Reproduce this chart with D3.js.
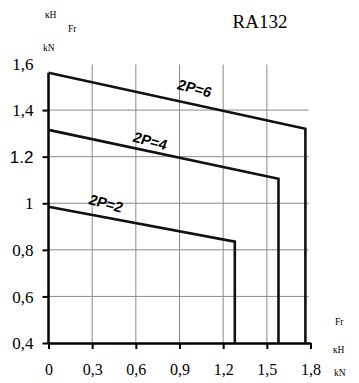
<!DOCTYPE html>
<html>
<head>
<meta charset="utf-8">
<script src="https://cdn.jsdelivr.net/npm/d3@7"></script>
<style>
  body { margin: 0; background: #fff; }
  svg { display: block; }
  .serif { font-family: "Liberation Serif", "Times New Roman", serif; }
</style>
</head>
<body>
<svg id="chart" width="359" height="383"></svg>
<script>
// data
const xTicks = [0, 0.3, 0.6, 0.9, 1.2, 1.5, 1.8];
const xTickLabels = ["0", "0,3", "0,6", "0,9", "1,2", "1,5", "1,8"];
const yTicks = [0.4, 0.6, 0.8, 1.0, 1.2, 1.4, 1.6];
const yTickLabels = ["0,4", "0,6", "0,8", "1", "1.2", "1,4", "1,6"];

const curveNames = ["2P=2", "2P=4", "2P=6"];
const curveX = [
  [0, 1.28, 1.28],
  [0, 1.58, 1.58],
  [0, 1.765, 1.765]
];
const curveY = [
  [0.985, 0.835, 0.4],
  [1.315, 1.105, 0.4],
  [1.56, 1.32, 0.4]
];
// where the curve labels sit (x, y in data units)
const labelX = [0.396, 0.70, 1.005];
const labelY = [1.0, 1.268, 1.494];

const svg = d3.select("#chart");
const mLeft = 48.5, mRight = 310.5, mTop = 63.5, mBottom = 343;

const x = d3.scaleLinear().domain([0, 1.8]).range([mLeft, mRight]);
const y = d3.scaleLinear().domain([0.4, 1.6]).range([mBottom, mTop]);

// grid
svg.append("g")
  .selectAll("line")
  .data(xTicks.filter(d => d > 0 && d < 1.8))
  .enter().append("line")
  .attr("x1", d => x(d)).attr("x2", d => x(d))
  .attr("y1", y(1.6) + 1).attr("y2", y(0.4))
  .attr("stroke", "#8a8a8a").attr("stroke-width", 1);

svg.append("g")
  .selectAll("line")
  .data(yTicks.filter(d => d > 0.4 && d < 1.6))
  .enter().append("line")
  .attr("x1", x(0)).attr("x2", x(1.8) - 2)
  .attr("y1", d => y(d)).attr("y2", d => y(d))
  .attr("stroke", "#8a8a8a").attr("stroke-width", 1);

// axes
const xAxis = svg.append("g")
  .attr("transform", "translate(0," + mBottom + ")")
  .call(d3.axisBottom(x).tickValues(xTicks).tickSize(6).tickSizeOuter(0)
    .tickFormat((d, i) => xTickLabels[i]));
xAxis.select(".domain").attr("stroke-width", 2.5);
xAxis.selectAll(".tick line").attr("stroke-width", 2);
xAxis.selectAll("text")
  .attr("dy", 0).attr("y", 32)
  .attr("class", "serif")
  .attr("font-family", null)
  .style("font-size", "16px");

const yAxis = svg.append("g")
  .attr("transform", "translate(" + mLeft + ",0)")
  .call(d3.axisLeft(y).tickValues(yTicks).tickSize(6).tickSizeOuter(0)
    .tickFormat((d, i) => yTickLabels[i]));
yAxis.select(".domain").remove();
yAxis.selectAll(".tick line").attr("stroke-width", 2)
  .filter(d => d === 1.6).remove();
yAxis.selectAll("text")
  .attr("x", -15).attr("dy", "0.33em")
  .attr("class", "serif")
  .style("font-size", "17px");
// the 1.2 label is set in a sans face in the original
yAxis.selectAll("text").filter(d => Math.abs(d - 1.2) < 1e-9)
  .attr("class", null)
  .style("font-family", "'Liberation Sans', Arial, sans-serif")
  .style("font-size", "17px");

// left axis line runs up to the top curve
svg.append("line")
  .attr("x1", x(0)).attr("x2", x(0))
  .attr("y1", y(0.4) + 1).attr("y2", y(curveY[2][0]))
  .attr("stroke", "#000").attr("stroke-width", 2.5);

// curves
const line = d3.line().x(d => x(d[0])).y(d => y(d[1]));
curveNames.forEach((name, i) => {
  const pts = curveX[i].map((v, j) => [v, curveY[i][j]]);
  svg.append("path")
    .attr("d", line(pts))
    .attr("fill", "none")
    .attr("stroke", "#111")
    .attr("stroke-width", 2.6)
    .attr("stroke-linejoin", "miter");

  svg.append("text")
    .attr("transform", "translate(" + x(labelX[i]) + "," + y(labelY[i]) + ") rotate(15) skewX(-6)")
    .attr("text-anchor", "middle")
    .attr("dy", "0.36em")
    .style("font-family", "'Liberation Sans', Arial, sans-serif")
    .style("font-size", "14.5px")
    .style("font-weight", "bold")
    .text(name);
});

// title and units
svg.append("text").attr("class", "serif")
  .attr("x", 260).attr("y", 28).attr("text-anchor", "middle")
  .style("font-size", "19px").text("RA132");

const units = [
  { t: "кН", x: 45, y: 18 },
  { t: "Fr", x: 68, y: 32 },
  { t: "kN", x: 43, y: 51 },
  { t: "Fr", x: 335, y: 325 },
  { t: "кН", x: 333, y: 353 },
  { t: "kN", x: 334, y: 376 }
];
svg.append("g").selectAll("text").data(units).enter().append("text")
  .attr("class", "serif")
  .attr("x", d => d.x).attr("y", d => d.y)
  .style("font-size", "9.5px")
  .text(d => d.t);
</script>
</body>
</html>
